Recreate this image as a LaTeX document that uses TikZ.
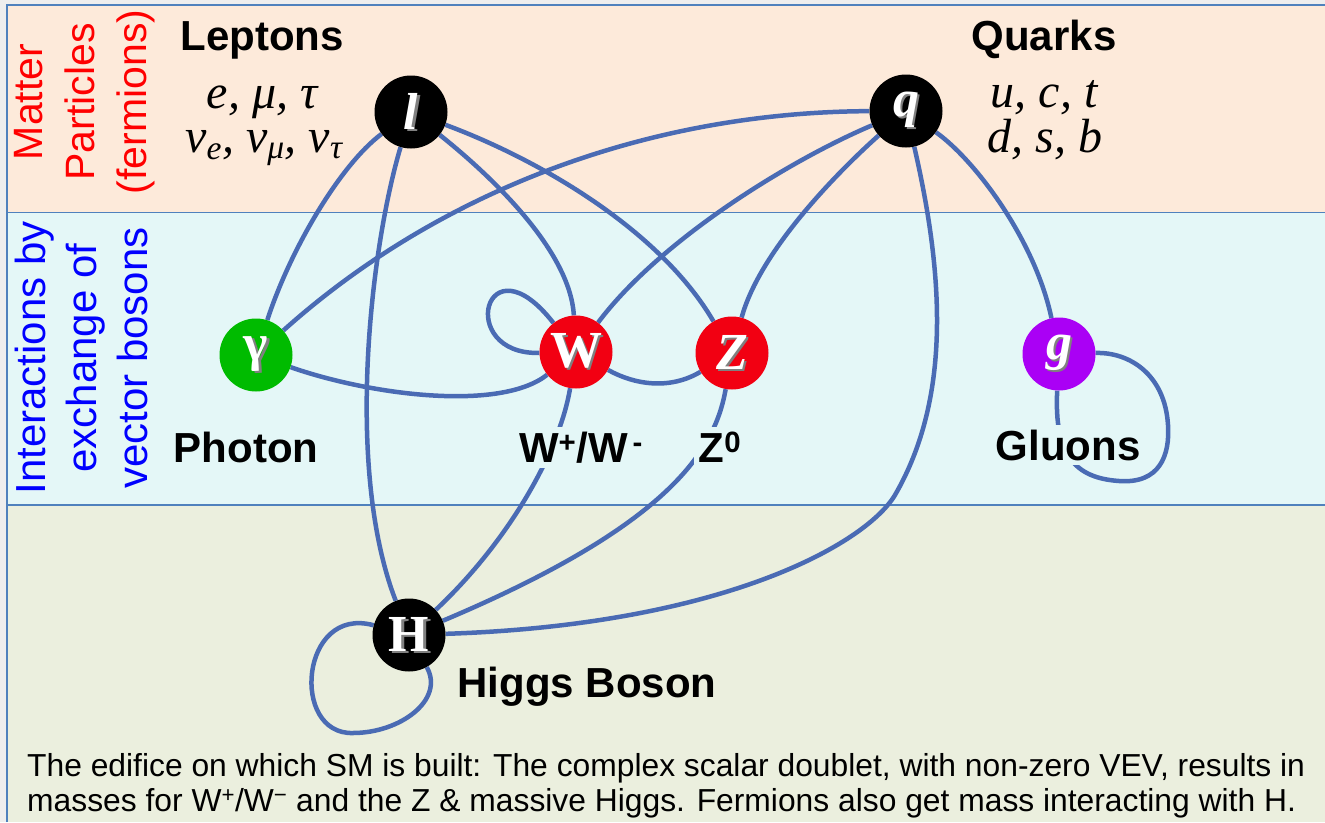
\documentclass[tikz,border=0pt]{standalone}
\usepackage{fontspec}
\setmainfont{Liberation Sans}
\newfontfamily\timesfam{Liberation Serif}
\usepackage{xcolor}
\definecolor{cMatter}{HTML}{FDEADA}
\definecolor{cForce}{HTML}{E4F7F7}
\definecolor{cHiggs}{HTML}{EBEFDE}
\definecolor{cPage}{HTML}{EEEEEE}
\definecolor{cFrame}{HTML}{4F81BD}
\definecolor{cLink}{HTML}{4A6BB4}
\definecolor{cPhoton}{HTML}{00BB00}
\definecolor{cBoson}{HTML}{F20012}
\definecolor{cGluon}{HTML}{AA00F5}
\definecolor{cRedTxt}{HTML}{FF0000}
\definecolor{cBlueTxt}{HTML}{0000FF}
\usepackage{tikz}
\usetikzlibrary{backgrounds}
\newcommand\embossed[1]{\makebox[0pt][l]{\kern2.5pt\raisebox{-2pt}{\color{gray}#1}}\textcolor{white}{#1}}
\newcommand\flavourfont{\timesfam\itshape\fontsize{48}{50}\selectfont}
\tikzset{
  node-particle/.style={circle,minimum size=73pt,inner sep=0pt,
    font=\timesfam\bfseries\fontsize{52}{52}\selectfont},
  node-title/.style={anchor=base,inner sep=0pt,
    font=\bfseries\fontsize{42}{46}\selectfont},
  node-label/.style={anchor=base,inner sep=5pt,fill=cForce,
    font=\bfseries\fontsize{42}{46}\selectfont},
  node-side/.style={rotate=90,align=center,inner sep=0pt},
  link/.style={draw=cLink,line width=4.5pt},
  band-line/.style={draw=cFrame,line width=1.8pt},
}

\begin{document}
\begin{tikzpicture}[x=1pt,y=-1pt]
  \useasboundingbox (0,0) rectangle (1325,822);
  % particles
  \node[node-particle,fill=black] (lep) at (411,112) {\embossed{\textit{l}}};
  \node[node-particle,fill=black] (qrk) at (906,111) {\embossed{\textit{q}}};
  \node[node-particle,fill=cPhoton] (gam) at (256,355) {\embossed{γ}};
  \node[node-particle,fill=cBoson] (wbos) at (576,352) {\embossed{W}};
  \node[node-particle,fill=cBoson] (zbos) at (732,353) {\embossed{\textit{Z}}};
  \node[node-particle,fill=cGluon] (glu) at (1059,354) {\embossed{\textit{g}}};
  \node[node-particle,fill=black] (higgs) at (409,635) {\embossed{H}};
  % titles and labels
  \node[node-title] (leptons) at (262,50) {Leptons};
  \node[anchor=base,inner sep=0pt,font=\flavourfont] (lepA) at (262,108) {e, μ, τ};
  \node[anchor=base,inner sep=0pt,font=\flavourfont] (lepB) at (264,152)
    {ν\textsubscript{e}, ν\textsubscript{μ}, ν\textsubscript{τ}};
  \node[node-title] (quarks) at (1044,50) {Quarks};
  \node[anchor=base,inner sep=0pt,font=\flavourfont] (qrkA) at (1044,107) {u, c, t};
  \node[anchor=base,inner sep=0pt,font=\flavourfont] (qrkB) at (1045,152) {d, s, b};
  \node[node-label] (lblPhoton) at (246,462) {Photon};
  \node[node-label] (lblW) at (581,462) {W\textsuperscript{+}/W\textsuperscript{\,-}};
  \node[node-label] (lblZ) at (720,462) {Z\textsuperscript{0}};
  \node[node-label] (lblGluon) at (1068,460) {Gluons};
  \node[node-title] (lblHiggs) at (587,697) {Higgs Boson};
  \node[node-side,text=cRedTxt,font=\fontsize{41}{52}\selectfont] (sideMatter)
    at (85,102) {Matter\\Particles\\(fermions)};
  \node[node-side,text=cBlueTxt,font=\fontsize{42}{51}\selectfont] (sideForce)
    at (81,358) {Interactions by\\exchange of\\vector bosons};
  \node[anchor=north west,align=left,inner sep=0pt,
    font=\fontsize{31.8}{35}\selectfont] (caption) at (27,753)
    {The edifice on which SM is built: The complex scalar doublet, with non-zero VEV, results in\\
     masses for W\textsuperscript{+}/W\textsuperscript{−} and the Z \& massive Higgs. Fermions also get mass interacting with H.};

  \begin{scope}[on background layer]
    \fill[cPage] (0,0) rectangle (1325,822);
    \fill[cMatter] (7,5) rectangle (1325,212.5);
    \fill[cForce] (7,212.5) rectangle (1325,505);
    \fill[cHiggs] (7,505) rectangle (1325,822);
    \draw[band-line] (7,822) -- (7,5) -- (1325,5);
    \draw[band-line] (7,212.5) -- (1325,212.5);
    \draw[band-line] (7,505) -- (1325,505);
    % interactions
    \draw[link] (lep) .. controls (340,165) and (290,250) .. (gam);
    \draw[link] (lep) .. controls (370,250) and (345,470) .. (higgs);
    \draw[link] (lep) .. controls (490,175) and (570,250) .. (wbos);
    \draw[link] (lep) .. controls (540,160) and (660,230) .. (zbos);
    \draw[link] (qrk) .. controls (650,112) and (440,190) .. (gam);
    \draw[link] (qrk) .. controls (790,160) and (660,240) .. (wbos);
    \draw[link] (qrk) .. controls (840,170) and (760,250) .. (zbos);
    \draw[link] (qrk) .. controls (945,280) and (950,400) .. (895,495)
      .. controls (865,545) and (720,625) .. (higgs);
    \draw[link] (qrk) .. controls (975,160) and (1035,240) .. (glu);
    \draw[link] (gam) .. controls (370,395) and (500,412) .. (wbos);
    \draw[link] (wbos) .. controls (455,355) and (485,235) .. (wbos);
    \draw[link] (wbos) .. controls (635,385) and (670,390) .. (zbos);
    \draw[link] (wbos) .. controls (560,450) and (510,540) .. (higgs);
    \draw[link] (zbos) .. controls (715,450) and (670,525) .. (higgs);
    \draw[link] (glu) .. controls (1054,455) and (1075,478) .. (1119,481)
      .. controls (1160,484) and (1170,455) .. (1168,425)
      .. controls (1165,375) and (1130,352) .. (glu);
    \draw[link] (higgs) .. controls (300,605) and (290,735) .. (353,733)
      .. controls (400,733) and (445,700) .. (higgs);
  \end{scope}
\end{tikzpicture}
\end{document}
